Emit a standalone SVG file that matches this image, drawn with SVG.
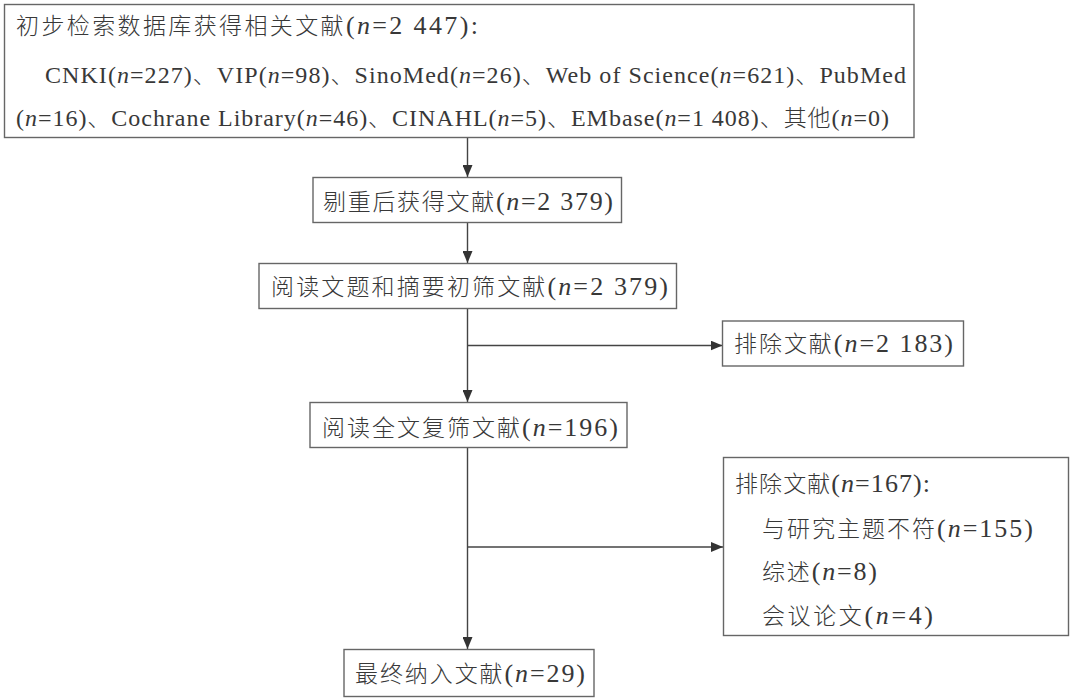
<svg xmlns="http://www.w3.org/2000/svg" width="1071" height="699" viewBox="0 0 1071 699">
<style>
.box{fill:#fff;stroke:#666;stroke-width:1.4}
.t{fill:#383838;font-family:"Noto Sans CJK SC","Noto Sans CJK JP",sans-serif;font-size:23px;font-weight:300}
.l{font-family:"Liberation Serif","Times New Roman",serif;font-size:26px;font-weight:400}
.s{font-family:"Liberation Serif","Times New Roman",serif;font-size:24px;font-weight:400}
.i{font-style:italic}
.c{fill:none;stroke:#444;stroke-width:1.4}
</style>
<defs>
<marker id="ah" markerUnits="userSpaceOnUse" markerWidth="12" markerHeight="10" refX="12" refY="5" orient="auto">
<path d="M0,0 L12,5 L0,10 Z" fill="#333"/>
</marker>
</defs>
<rect width="1071" height="699" fill="#fff"/>
<g id="connectors">
<line class="c" x1="467.5" y1="138" x2="467.5" y2="177" marker-end="url(#ah)"/>
<line class="c" x1="467.5" y1="223" x2="467.5" y2="263" marker-end="url(#ah)"/>
<line class="c" x1="467.5" y1="309" x2="467.5" y2="402" marker-end="url(#ah)"/>
<line class="c" x1="467.5" y1="345.5" x2="722.5" y2="345.5" marker-end="url(#ah)"/>
<line class="c" x1="467.5" y1="447" x2="467.5" y2="649" marker-end="url(#ah)"/>
<line class="c" x1="467.5" y1="547" x2="723" y2="547" marker-end="url(#ah)"/>
</g>
<g id="n1">
<rect class="box" x="4.5" y="4.5" width="909.5" height="133"/>
<text class="t" x="16" y="34" textLength="462">初步检索数据库获得相关文献<tspan class="l">(<tspan class="i">n</tspan>=2 447):</tspan></text>
<text class="t s" x="45" y="83" textLength="861">CNKI(<tspan class="i">n</tspan>=227)<tspan class="t">、</tspan>VIP(<tspan class="i">n</tspan>=98)<tspan class="t">、</tspan>SinoMed(<tspan class="i">n</tspan>=26)<tspan class="t">、</tspan>Web of Science(<tspan class="i">n</tspan>=621)<tspan class="t">、</tspan>PubMed</text>
<text class="t s" x="16" y="126" textLength="873">(<tspan class="i">n</tspan>=16)<tspan class="t">、</tspan>Cochrane Library(<tspan class="i">n</tspan>=46)<tspan class="t">、</tspan>CINAHL(<tspan class="i">n</tspan>=5)<tspan class="t">、</tspan>EMbase(<tspan class="i">n</tspan>=1 408)<tspan class="t">、其他</tspan>(<tspan class="i">n</tspan>=0)</text>
</g>
<g id="n2">
<rect class="box" x="313" y="177.5" width="308.5" height="45"/>
<text class="t" x="323" y="210" textLength="290">剔重后获得文献<tspan class="l">(<tspan class="i">n</tspan>=2 379)</tspan></text>
</g>
<g id="n3">
<rect class="box" x="259" y="263.5" width="417.5" height="45"/>
<text class="t" x="271" y="295" textLength="397">阅读文题和摘要初筛文献<tspan class="l">(<tspan class="i">n</tspan>=2 379)</tspan></text>
</g>
<g id="n4">
<rect class="box" x="722.5" y="321" width="241" height="45"/>
<text class="t" x="734" y="352" textLength="219">排除文献<tspan class="l">(<tspan class="i">n</tspan>=2 183)</tspan></text>
</g>
<g id="n5">
<rect class="box" x="310" y="402.5" width="317" height="45"/>
<text class="t" x="322" y="436" textLength="296">阅读全文复筛文献<tspan class="l">(<tspan class="i">n</tspan>=196)</tspan></text>
</g>
<g id="n6">
<rect class="box" x="723.5" y="457.5" width="345" height="178"/>
<text class="t" x="735" y="492" textLength="195">排除文献<tspan class="l">(<tspan class="i">n</tspan>=167):</tspan></text>
<text class="t" x="762" y="537" textLength="271">与研究主题不符<tspan class="l">(<tspan class="i">n</tspan>=155)</tspan></text>
<text class="t" x="762" y="580" textLength="115">综述<tspan class="l">(<tspan class="i">n</tspan>=8)</tspan></text>
<text class="t" x="762" y="624" textLength="171">会议论文<tspan class="l">(<tspan class="i">n</tspan>=4)</tspan></text>
</g>
<g id="n7">
<rect class="box" x="344" y="649.5" width="250" height="47"/>
<text class="t" x="355" y="682" textLength="230">最终纳入文献<tspan class="l">(<tspan class="i">n</tspan>=29)</tspan></text>
</g>
</svg>
